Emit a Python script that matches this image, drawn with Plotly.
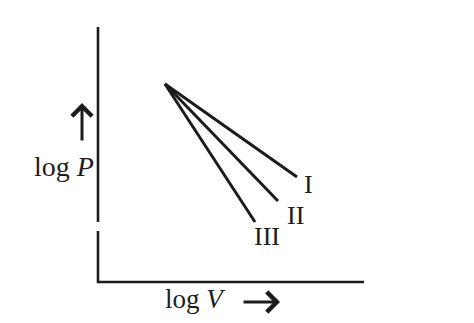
import plotly.graph_objects as go

# Chart values (arbitrary log units, origin at axes corner)
series_names = ["I", "II", "III"]
start_logV = 6.7
start_logP = 19.8
end_logV = [19.9, 18.0, 15.7]
end_logP = [10.5, 8.1, 6.0]
label_logV = [21.0, 19.7, 16.9]
label_logP = [9.8, 6.7, 4.6]

axis_x_max = 26.6
axis_y_max = 25.5
axis_gap = [5.1, 6.0]

ink = "#1c1c1c"
font_family = "Liberation Serif, Times New Roman, serif"

fig = go.Figure()

# Axes (vertical has a small break)
fig.add_trace(go.Scatter(
    x=[0, 0, None, 0, 0, axis_x_max],
    y=[axis_y_max, axis_gap[1], None, axis_gap[0], 0, 0],
    mode="lines", line=dict(color=ink, width=2.6), hoverinfo="skip", showlegend=False))

for name, xv, yv in zip(series_names, end_logV, end_logP):
    fig.add_trace(go.Scatter(
        x=[start_logV, xv], y=[start_logP, yv], mode="lines", name=name,
        line=dict(color=ink, width=3), showlegend=False))

for name, lx, ly in zip(series_names, label_logV, label_logP):
    fig.add_annotation(x=lx, y=ly, text=name, showarrow=False,
                       font=dict(family=font_family, size=26, color=ink),
                       xanchor="center", yanchor="middle")

# Axis titles
fig.add_annotation(x=-3.4, y=11.6, text="log <i>P</i>", showarrow=False,
                   font=dict(family=font_family, size=28, color=ink),
                   xanchor="center", yanchor="middle")
fig.add_annotation(x=9.7, y=-1.7, text="log <i>V</i>", showarrow=False,
                   font=dict(family=font_family, size=27, color=ink),
                   xanchor="center", yanchor="middle")

# Direction arrows
fig.add_annotation(x=-1.6, y=17.9, ax=-1.6, ay=14.0, xref="x", yref="y",
                   axref="x", ayref="y", text="", showarrow=True,
                   arrowhead=4, arrowsize=1.3, arrowwidth=3, arrowcolor=ink)
fig.add_annotation(x=18.2, y=-2.0, ax=14.4, ay=-2.0, xref="x", yref="y",
                   axref="x", ayref="y", text="", showarrow=True,
                   arrowhead=4, arrowsize=1.3, arrowwidth=3, arrowcolor=ink)

fig.update_layout(
    width=474, height=323,
    margin=dict(l=0, r=0, t=0, b=0),
    paper_bgcolor="white", plot_bgcolor="white",
    xaxis=dict(range=[-9.8, 37.6], visible=False, fixedrange=True),
    yaxis=dict(range=[-4.1, 28.2], visible=False, fixedrange=True),
)

fig.write_html("out.html")
